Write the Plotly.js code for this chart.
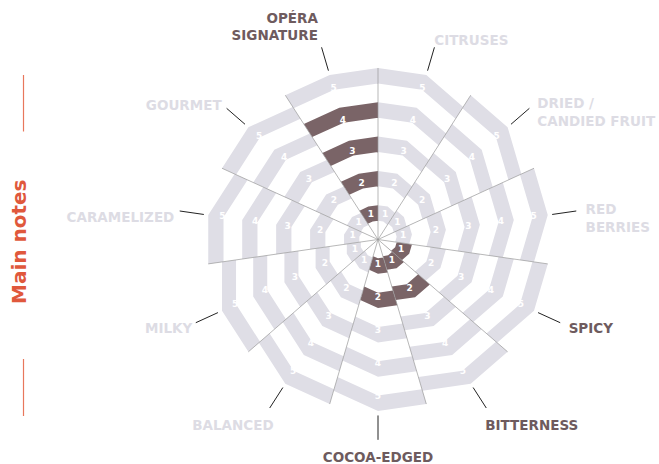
<!DOCTYPE html>
<html>
<head>
<meta charset="utf-8">
<script src="https://cdn.plot.ly/plotly-3.0.1.min.js"></script>
<style>html,body{margin:0;padding:0;background:#fff;}#chart{width:659px;height:464px;}</style>
</head>
<body>
<div id="chart"></div>
<script>
// Sectors listed clockwise, starting just right of the top spoke
var categories = ["CITRUSES", "DRIED /<br>CANDIED FRUIT", "RED<br>BERRIES", "SPICY", "BITTERNESS",
                  "COCOA-EDGED", "BALANCED", "MILKY", "CARAMELIZED", "GOURMET", "OPÉRA<br>SIGNATURE"];
var values = [0, 0, 0, 1, 2, 2, 0, 0, 0, 0, 4];
var levels = [1, 2, 3, 4, 5];
var levelLabels = ["1", "2", "3", "4", "5"];

// Label layout (text placement only)
var labelPositions = ["top right", "middle right", "middle right", "middle right", "bottom right",
                      "bottom center", "bottom left", "middle left", "middle left", "top left", "top left"];
var labelRadius = [5.82, 5.92, 6.08, 6.15, 6.12, 6.2, 6.08, 6.02, 5.97, 5.86, 5.97];
var labelAngleShift = [0, 2.6, 2.7, 0.8, 2.0, 0, -2.7, -1.4, -2.3, -2.0, -0.7];

var DARK = "#7a6467";
var LIGHT = "#dfdee6";
var LABEL_DARK = "#6e5b5e";
var LABEL_LIGHT = "#dddce4";
var BAND = 0.45;
var N = categories.length;
var STEP = 360 / N;
var FONT = "DejaVu Sans";
var RMAX = 6.45;
var PX = 34.3;           // pixels per radial unit
var CX = 378, CY = 239.5; // chart centre in pixels

var traces = [];

// Rings: one polygonal barpolar trace per level
levels.forEach(function (k) {
  traces.push({
    type: "barpolar",
    subplot: "polar",
    theta: categories,
    base: categories.map(function () { return k - BAND; }),
    r: categories.map(function () { return BAND; }),
    offset: 0,
    width: 1,
    marker: {
      color: values.map(function (v) { return v >= k ? DARK : LIGHT; }),
      line: { width: 0 }
    },
    hoverinfo: "skip",
    showlegend: false
  });
});

// Sector center angles (degrees) on the overlay subplot
var centers = categories.map(function (c, i) { return (i + 0.5) * STEP; });
var edgeFactor = Math.cos(Math.PI / N);

// Spokes
var spokeR = [], spokeT = [];
for (var j = 0; j < N; j++) {
  spokeR.push(0, levels[levels.length - 1], null);
  spokeT.push(j * STEP, j * STEP, null);
}
traces.push({
  type: "scatterpolar", subplot: "polar2", mode: "lines",
  r: spokeR, theta: spokeT,
  line: { color: "#9a9a9a", width: 0.7 },
  hoverinfo: "skip", showlegend: false
});

// Level numbers inside the bands
var numR = [], numT = [], numText = [];
levels.forEach(function (k, li) {
  centers.forEach(function (a) {
    numR.push((k - BAND / 2) * edgeFactor);
    numT.push(a);
    numText.push(levelLabels[li]);
  });
});
traces.push({
  type: "scatterpolar", subplot: "polar2", mode: "text",
  r: numR, theta: numT, text: numText,
  textfont: { family: FONT, size: 9, color: "#ffffff", weight: "bold" },
  hoverinfo: "skip", showlegend: false
});

// Leader lines
var ldR = [], ldT = [];
centers.forEach(function (a) { ldR.push(5.13, 5.84, null); ldT.push(a, a, null); });
traces.push({
  type: "scatterpolar", subplot: "polar2", mode: "lines",
  r: ldR, theta: ldT,
  line: { color: "#222222", width: 1 },
  hoverinfo: "skip", showlegend: false
});

// Category labels
traces.push({
  type: "scatterpolar", subplot: "polar2", mode: "text",
  r: labelRadius, theta: centers.map(function (a, i) { return a + labelAngleShift[i]; }),
  text: categories,
  textposition: labelPositions,
  textfont: {
    family: FONT, size: 13.5, weight: "bold",
    color: values.map(function (v) { return v > 0 ? LABEL_DARK : LABEL_LIGHT; })
  },
  hoverinfo: "skip", showlegend: false, cliponaxis: false
});

var half = RMAX * PX;
var dom = {
  x: [(CX - half) / 659, (CX + half) / 659],
  y: [(464 - CY - half) / 464, (464 - CY + half) / 464]
};
function hiddenRadial() {
  return { range: [0, RMAX], autorange: false, visible: false, showgrid: false, showline: false, showticklabels: false, ticks: "" };
}

var layout = {
  width: 659, height: 464,
  margin: { l: 0, r: 0, t: 0, b: 0 },
  paper_bgcolor: "#ffffff",
  showlegend: false,
  polar: {
    domain: dom,
    bgcolor: "rgba(0,0,0,0)",
    gridshape: "linear",
    barmode: "overlay",
    radialaxis: hiddenRadial(),
    angularaxis: {
      type: "category", categoryarray: categories, categoryorder: "array",
      rotation: 90, direction: "clockwise",
      showgrid: false, showline: false, showticklabels: false, ticks: ""
    }
  },
  polar2: {
    domain: dom,
    bgcolor: "rgba(0,0,0,0)",
    radialaxis: hiddenRadial(),
    angularaxis: {
      type: "linear", thetaunit: "degrees",
      rotation: 90, direction: "clockwise",
      showgrid: false, showline: false, showticklabels: false, ticks: ""
    }
  },
  annotations: [{
    xref: "paper", yref: "paper", x: 19 / 659, y: 1 - 242 / 464,
    text: "Main notes", showarrow: false, textangle: -90,
    font: { family: FONT, size: 20, color: "#e0583c", weight: "bold" },
    xanchor: "center", yanchor: "middle"
  }],
  shapes: [
    { type: "line", xref: "paper", yref: "paper", x0: 23.5 / 659, x1: 23.5 / 659, y0: 1 - 75 / 464, y1: 1 - 131.5 / 464, line: { color: "#e8775c", width: 1.2 } },
    { type: "line", xref: "paper", yref: "paper", x0: 23.5 / 659, x1: 23.5 / 659, y0: 1 - 359 / 464, y1: 1 - 416 / 464, line: { color: "#e8775c", width: 1.2 } }
  ]
};

Plotly.newPlot("chart", traces, layout, { staticPlot: true, displayModeBar: false });
</script>
</body>
</html>
